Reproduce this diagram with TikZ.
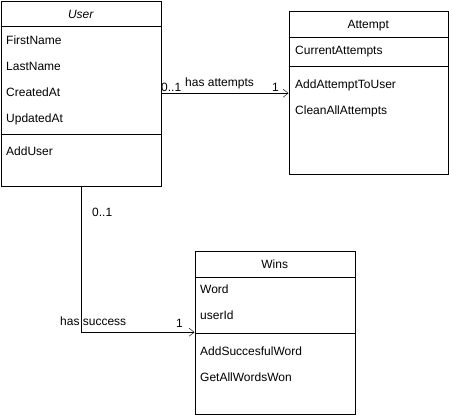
\documentclass[tikz,border=0pt]{standalone}
\usepackage{fontspec}
\setmainfont{Liberation Sans}
\usetikzlibrary{arrows.meta}

\begin{document}
\begin{tikzpicture}[x=1pt,y=-1pt,
		umlbox/.style={draw,rectangle,anchor=north west,inner sep=0pt},
		member/.style={anchor=west,inner sep=0pt,text height=8.6pt,text depth=0pt},
		classname/.style={inner sep=0pt,text height=8.6pt,text depth=0pt},
		role/.style={anchor=base west,inner sep=0pt},
		assoc/.style={-{Straight Barb[length=5pt,width=8pt]}}]
		\tikzstyle{every node}=[font=\fontsize{12}{14}\selectfont]
		\useasboundingbox (0,0) rectangle (449,415);
		% User
		\node[umlbox,minimum width=160pt,minimum height=185pt] (user) at (0.5,0.5) {};
		\draw (user.west |- 0,26) -- (user.east |- 0,26);
		\draw (user.west |- 0,134) -- (user.east |- 0,134);
		\node[classname,font=\fontsize{12}{14}\selectfont\itshape] (usertitle) at (user.north |- 0,14) {User};
		\node[member] (firstname) at (6,39.7) {FirstName};
		\node[member] (lastname) at (6,65.7) {LastName};
		\node[member] (createdat) at (6,91.7) {CreatedAt};
		\node[member] (updatedat) at (6,117.7) {UpdatedAt};
		\node[member] (adduser) at (6,151.3) {AddUser};
		% Attempt
		\node[umlbox,minimum width=159pt,minimum height=163pt] (attempt) at (288.5,10.5) {};
		\draw (attempt.west |- 0,37) -- (attempt.east |- 0,37);
		\draw (attempt.west |- 0,66) -- (attempt.east |- 0,66);
		\node[classname] (attempttitle) at (attempt.north |- 0,24.5) {Attempt};
		\node[member] (currentattempts) at (295,49.7) {CurrentAttempts};
		\node[member] (addattempt) at (295,84.5) {AddAttemptToUser};
		\node[member] (cleanattempts) at (295,110.5) {CleanAllAttempts};
		% Wins
		\node[umlbox,minimum width=160pt,minimum height=163pt] (wins) at (194.5,250.5) {};
		\draw (wins.west |- 0,277) -- (wins.east |- 0,277);
		\draw (wins.west |- 0,333) -- (wins.east |- 0,333);
		\node[classname] (winstitle) at (wins.north |- 0,264) {Wins};
		\node[member] (word) at (200,289.3) {Word};
		\node[member] (userid) at (200,315.5) {userId};
		\node[member] (addword) at (200,351.2) {AddSuccesfulWord};
		\node[member] (getwords) at (200,377.2) {GetAllWordsWon};
		% associations
		\draw[assoc] (user.east) -- (user.east -| attempt.west);
		\node[role] (attemptsfrom) at (161,91.7) {0..1};
		\node[role] (attemptslabel) at (185,86.7) {has attempts};
		\node[role] (attemptsto) at (272,91.7) {1};
		\draw[assoc] (user.south) |- (wins.west);
		\node[role] (successfrom) at (92,216.7) {0..1};
		\node[role] (successlabel) at (60,325) {has success};
		\node[role] (successto) at (176,327.3) {1};
	\end{tikzpicture}
\end{document}
